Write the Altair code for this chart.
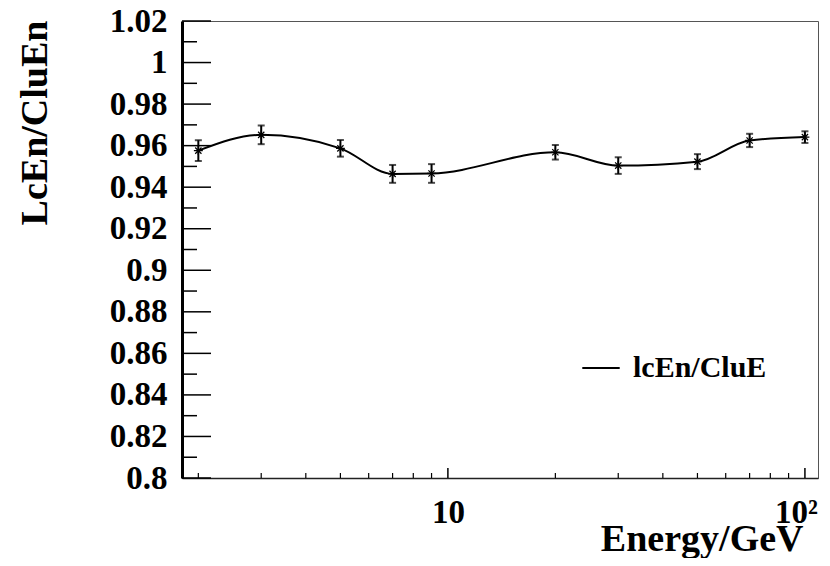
import altair as alt
import pandas as pd

# ---- data ----
energy = [2, 3, 5, 7, 9, 20, 30, 50, 70, 100]
ratio = [0.9576, 0.9652, 0.9587, 0.9464, 0.9466, 0.9568, 0.9504, 0.9523, 0.9625, 0.9641]
err = [0.0050, 0.0045, 0.0040, 0.0043, 0.0045, 0.0035, 0.0040, 0.0036, 0.0032, 0.0028]
series_name = "lcEn/CluE"

y_major = [0.80, 0.82, 0.84, 0.86, 0.88, 0.90, 0.92, 0.94, 0.96, 0.98, 1.00, 1.02]
y_minor = [0.81, 0.83, 0.85, 0.87, 0.89, 0.91, 0.93, 0.95, 0.97, 0.99, 1.01]
x_major = [10, 100]
x_minor = [2, 3, 4, 5, 6, 7, 8, 9, 20, 30, 40, 50, 60, 70, 80, 90]

df = pd.DataFrame({"E": energy, "R": ratio, "err": err, "s": [series_name] * len(energy)})
df["lo"] = df["R"] - df["err"]
df["hi"] = df["R"] + df["err"]

FONT = "Liberation Serif"
W, H = 636, 457

xs = alt.Scale(type="log", domain=[1.8, 108.8], nice=False)
ys = alt.Scale(domain=[0.8, 1.02], nice=False, zero=False)

x_axis = alt.Axis(
    values=x_major, labelExpr="datum.value == 100 ? '10²' : '10'",
    labelOffset={"condition": {"test": "datum.value == 100", "value": -9}, "value": 0},
    ticks=False, tickSize=0, grid=False, labelPadding=18,
    labelFont=FONT, labelFontSize=33, labelFontWeight="bold", labelColor="black",
    labelFlush=False, labelOverlap=False, domainColor="#222", domainWidth=1.5,
    title="Energy/GeV", titleFont=FONT, titleFontSize=38, titleFontWeight="bold",
    titleColor="black", titleAlign="right", titleAnchor="end", titleBaseline="alphabetic",
    titleX=621, titleY=72)
y_axis = alt.Axis(
    values=y_major, format="~g", ticks=False, tickSize=0, grid=False, labelPadding=15,
    labelFont=FONT, labelFontSize=33, labelFontWeight="bold", labelColor="black",
    labelFlush=False, labelOverlap=False, domainColor="black", domainWidth=3,
    title="LcEn/CluEn", titleFont=FONT, titleFontSize=38, titleFontWeight="bold",
    titleColor="black", titleAngle=-90, titleAlign="right", titleBaseline="alphabetic",
    titleX=-136, titleY=-1)

base = alt.Chart(df)

line = base.mark_line(interpolate="monotone", strokeWidth=2).encode(
    x=alt.X("E:Q", scale=xs, axis=x_axis),
    y=alt.Y("R:Q", scale=ys, axis=y_axis),
    color=alt.Color("s:N", scale=alt.Scale(range=["black"]), legend=alt.Legend(
        title=None, orient="none", legendX=399, legendY=327, padding=0,
        symbolType="stroke", symbolStrokeWidth=2, symbolSize=1400, symbolStrokeColor="black",
        labelFont=FONT, labelFontSize=30, labelFontWeight="bold", labelColor="black",
        labelOffset=12, labelLimit=300)),
)

bars = base.mark_rule(color="black", strokeWidth=2).encode(
    x=alt.X("E:Q", scale=xs, axis=x_axis),
    y=alt.Y("lo:Q", scale=ys, axis=y_axis),
    y2="hi:Q",
)
cap_lo = base.mark_tick(color="black", orient="horizontal", size=7, thickness=2).encode(
    x=alt.X("E:Q", scale=xs, axis=x_axis), y=alt.Y("lo:Q", scale=ys, axis=y_axis))
cap_hi = base.mark_tick(color="black", orient="horizontal", size=7, thickness=2).encode(
    x=alt.X("E:Q", scale=xs, axis=x_axis), y=alt.Y("hi:Q", scale=ys, axis=y_axis))

star = "M-1,0L1,0M0,-1L0,1M-0.7,-0.7L0.7,0.7M-0.7,0.7L0.7,-0.7"
pts = base.mark_point(shape=star, size=80, filled=False, color="black", strokeWidth=1.2, opacity=1).encode(
    x=alt.X("E:Q", scale=xs, axis=x_axis), y=alt.Y("R:Q", scale=ys, axis=y_axis))

# inward ROOT-style ticks
ymaj = alt.Chart(pd.DataFrame({"v": y_major})).mark_rule(color="black", strokeWidth=1.5).encode(
    y=alt.Y("v:Q", scale=ys, axis=y_axis), x=alt.value(0), x2=alt.value(29))
ymin = alt.Chart(pd.DataFrame({"v": y_minor})).mark_rule(color="black", strokeWidth=1.5).encode(
    y=alt.Y("v:Q", scale=ys, axis=y_axis), x=alt.value(0), x2=alt.value(15))
xmaj = alt.Chart(pd.DataFrame({"v": x_major})).mark_rule(color="black", strokeWidth=1.5).encode(
    x=alt.X("v:Q", scale=xs, axis=x_axis), y=alt.value(H), y2=alt.value(H - 10))
xmin = alt.Chart(pd.DataFrame({"v": x_minor})).mark_rule(color="black", strokeWidth=1.2).encode(
    x=alt.X("v:Q", scale=xs, axis=x_axis), y=alt.value(H), y2=alt.value(H - 5))

chart = alt.layer(line, ymaj, ymin, xmaj, xmin, bars, cap_lo, cap_hi, pts).properties(
    width=W, height=H,
    padding={"left": 174, "top": 13, "right": 4, "bottom": 80},
    autosize=alt.AutoSizeParams(type="none"),
    background="white",
).configure_view(stroke="#555", strokeWidth=1)

chart.save("out.html", embed_options={"renderer": "svg", "actions": False})
